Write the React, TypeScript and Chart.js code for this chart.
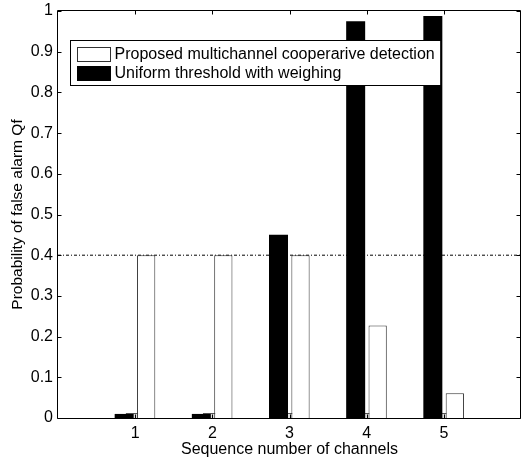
import { useEffect, useRef } from "react";
import { Chart, registerables } from "chart.js";

Chart.register(...registerables);

// Channel index and false-alarm probability per scheme
const channels = [1, 2, 3, 4, 5];
const proposedQf = [0.4, 0.4, 0.4, 0.227, 0.061];
const uniformQf = [0.01, 0.01, 0.45, 0.975, 0.988];
const residualQf = [0.012, 0.012, 0.012, 0.012, 0.012];
const targetQf = 0.4;
const xRange = [0, 6];
const yTicks = [0, 0.1, 0.2, 0.3, 0.4, 0.5, 0.6, 0.7, 0.8, 0.9, 1];
const legendLabels = [
  "Proposed multichannel cooperarive detection",
  "Uniform threshold with weighing",
];
const xTitle = "Sequence number of channels";
const yTitle = "Probability of false alarm Qf";

const FONT = "'Liberation Sans', Arial, Helvetica, sans-serif";

// Box around the plot with inward tick marks on all four sides, plus an inset legend
const matlabAxes = {
  id: "matlabAxes",
  afterDatasetsDraw(chart: any) {
    const { ctx, chartArea: a, scales } = chart;
    const x = scales.x;
    const y = scales.y;
    const L = Math.round(a.left) - 0.5;
    const R = Math.round(a.right) - 0.5;
    const T = Math.round(a.top) - 0.5;
    const B = Math.round(a.bottom) + 0.5;
    const tl = 4;
    ctx.save();
    ctx.strokeStyle = "#000";
    ctx.lineWidth = 1;
    ctx.beginPath();
    ctx.rect(L, T, R - L, B - T);
    for (const v of yTicks) {
      const py = Math.round(y.getPixelForValue(v)) + 0.5;
      ctx.moveTo(L, py);
      ctx.lineTo(L + tl, py);
      ctx.moveTo(R, py);
      ctx.lineTo(R - tl, py);
    }
    for (const v of channels) {
      const px = Math.round(x.getPixelForValue(v)) + 0.5;
      ctx.moveTo(px, B);
      ctx.lineTo(px, B - tl);
      ctx.moveTo(px, T);
      ctx.lineTo(px, T + tl);
    }
    ctx.stroke();

    // legend
    ctx.font = `16px ${FONT}`;
    const textW = Math.max(...legendLabels.map((s) => ctx.measureText(s).width));
    const bx = Math.round(a.left) + 12.5;
    const by = Math.round(a.top) + 29.5;
    const sw = 33;
    const sh = 14;
    const rowH = 19;
    const bw = 7 + sw + 4 + textW + 6;
    const bh = 7 + rowH * legendLabels.length;
    ctx.fillStyle = "#fff";
    ctx.fillRect(bx, by, bw, bh);
    ctx.strokeRect(bx, by, bw, bh);
    const fills = ["#ffffff", "#000000"];
    legendLabels.forEach((label, i) => {
      const cy = by + 4 + rowH * i + rowH / 2;
      ctx.fillStyle = fills[i];
      ctx.fillRect(bx + 7, Math.round(cy - sh / 2) + 0.5, sw, sh);
      ctx.strokeStyle = i === 0 ? "#333" : "#000";
      ctx.strokeRect(bx + 7, Math.round(cy - sh / 2) + 0.5, sw, sh);
      ctx.fillStyle = "#000";
      ctx.textBaseline = "middle";
      ctx.textAlign = "left";
      ctx.fillText(label, bx + 7 + sw + 4, cy + 1);
    });
    ctx.restore();
  },
};

export default function App() {
  const ref = useRef<HTMLCanvasElement | null>(null);

  useEffect(() => {
    if (!ref.current) return;
    const chart = new Chart(ref.current, {
      type: "bar",
      data: {
        datasets: [
          {
            type: "bar",
            label: legendLabels[1],
            data: channels.map((c, i) => ({ x: c, y: uniformQf[i] })),
            backgroundColor: "#000",
            borderWidth: 0,
            categoryPercentage: 0.57,
            barPercentage: 0.864,
          },
          {
            type: "bar",
            label: legendLabels[0],
            data: channels.map((c, i) => ({ x: c, y: proposedQf[i] })),
            backgroundColor: "#fff",
            borderColor: "#333",
            borderWidth: 1,
            categoryPercentage: 0.57,
            barPercentage: 0.83,
          },
          {
            type: "bar",
            label: "residual",
            data: channels.map((c, i) => ({ x: c, y: residualQf[i] })),
            backgroundColor: "#ddd",
            borderColor: "#555",
            borderWidth: 1,
            grouped: false,
            categoryPercentage: 0.57,
            barPercentage: 0.432,
          },
          {
            type: "line",
            label: "target",
            data: xRange.map((v) => ({ x: v, y: targetQf })),
            borderColor: "#000",
            borderWidth: 1,
            borderDash: [3, 2, 1, 2],
            pointRadius: 0,
            fill: false,
          },
        ] as any,
      },
      options: {
        responsive: false,
        animation: false,
        devicePixelRatio: 1,
        layout: { padding: { top: 11, right: 1, left: 0, bottom: 0 } },
        plugins: {
          legend: { display: false },
          tooltip: { enabled: false },
        },
        scales: {
          x: {
            type: "linear",
            min: xRange[0],
            max: xRange[1],
            offset: false,
            grid: { display: false, drawTicks: false },
            border: { display: false },
            ticks: {
              stepSize: 1,
              padding: 6,
              color: "#000",
              font: { family: FONT, size: 16 },
              callback: (v: any) => (channels.includes(v) ? String(v) : ""),
              maxRotation: 0,
              autoSkip: false,
            },
            title: {
              display: true,
              text: xTitle,
              color: "#000",
              font: { family: FONT, size: 16 },
              padding: { top: 0, bottom: 4 },
            },
            afterFit: (s: any) => {
              s.height = 45;
              s.paddingLeft = 0;
              s.paddingRight = 0;
            },
          },
          y: {
            min: 0,
            max: 1,
            grid: { display: false, drawTicks: false },
            border: { display: false },
            afterBuildTicks: (s: any) => {
              s.ticks = yTicks.map((v) => ({ value: v }));
            },
            ticks: {
              padding: 5,
              color: "#000",
              font: { family: FONT, size: 16 },
              callback: (v: any) => String(Math.round(Number(v) * 10) / 10),
            },
            title: {
              display: true,
              text: yTitle,
              color: "#000",
              font: { family: FONT, size: 15.5 },
              padding: { top: 8, bottom: 0 },
            },
            afterFit: (s: any) => {
              s.width = 58;
              s.paddingTop = 0;
              s.paddingBottom = 0;
            },
          },
        },
      },
      plugins: [matlabAxes],
    });
    return () => chart.destroy();
  }, []);

  return (
    <div style={{ position: "absolute", left: 0, top: 0, width: 522, height: 463, background: "#fff" }}>
      <canvas ref={ref} width={522} height={463} style={{ display: "block", width: 522, height: 463 }} />
    </div>
  );
}
